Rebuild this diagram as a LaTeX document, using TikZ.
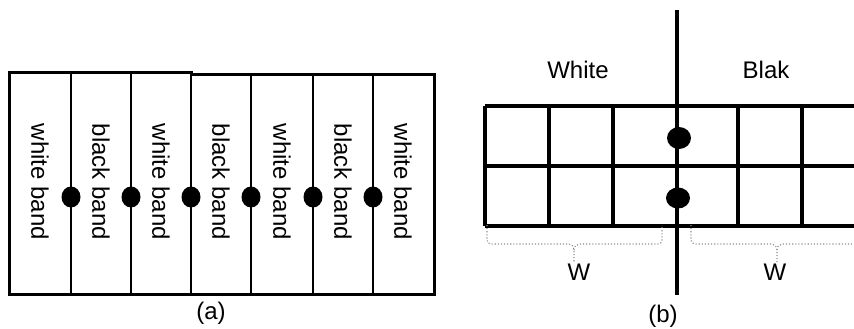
\documentclass[tikz,border=0pt]{standalone}
\usepackage{fontspec}
\setmainfont{Liberation Sans}
\begin{document}
\begin{tikzpicture}[x=1pt,y=-1pt,
  lbl/.style={font=\fontsize{24}{28}\selectfont, inner sep=0pt},
  bandtext/.style={lbl, rotate=-90},
  dot/.style={fill=black, draw=none},
  gridline/.style={line width=3.6pt},
  bracepath/.style={draw=black!45, dotted, line width=1.1pt}]
\useasboundingbox (0,0) rectangle (854,329);

% ---- (a): seven vertical bands ----
\draw[line width=3pt, line join=miter]
  (9,294) -- (9,73) -- (191,73) -- (191,75) -- (434,75) -- (434,294) -- cycle;
\foreach \x in {71,131,191,251,313,373}
  \draw[line width=2.8pt] (\x,74) -- (\x,294);
\node[bandtext] (b1) at (40,182)  {white band};
\node[bandtext] (b2) at (101,182) {black band};
\node[bandtext] (b3) at (161,182) {white band};
\node[bandtext] (b4) at (221,182) {black band};
\node[bandtext] (b5) at (282,182) {white band};
\node[bandtext] (b6) at (343,182) {black band};
\node[bandtext] (b7) at (403,182) {white band};
\foreach \x in {71,131,191,251,313,373}
  \fill[dot] (\x,197) ellipse [x radius=9.5, y radius=10.5];
\node[lbl] (capa) at (211,313) {(a)};

% ---- (b): pixel grid across the edge ----
\foreach \y in {106,166,226}
  \draw[gridline] (485,\y) -- (856,\y);
\foreach \x in {485,549,613,738,802}
  \draw[gridline] (\x,106) -- (\x,226);
\draw[line width=3.6pt] (677,10) -- (677,295);
\fill[dot] (679,138) ellipse [x radius=12, y radius=11];
\fill[dot] (678,198) ellipse [x radius=12, y radius=10.5];

\node[lbl] (white) at (578,70) {White};
\node[lbl] (blak)  at (766,70) {Blak};

% braces under the grid
\draw[bracepath] (487,225) -- (487,240) to[out=-90,in=180] (491,244) -- (569,244)
  to[out=0,in=90] (574,250) -- (574,262);
\draw[bracepath] (574,250) to[out=90,in=180] (579,244) -- (658,244)
  to[out=0,in=-90] (662,240) -- (662,225);
\draw[bracepath] (691,225) -- (691,240) to[out=-90,in=180] (695,244) -- (772,244)
  to[out=0,in=90] (777,250) -- (777,262);
\draw[bracepath] (777,250) to[out=90,in=180] (782,244) -- (860,244);

\node[lbl] (w1) at (579,272) {W};
\node[lbl] (w2) at (775,272) {W};
\node[lbl] (capb) at (663,316) {(b)};
\end{tikzpicture}
\end{document}
